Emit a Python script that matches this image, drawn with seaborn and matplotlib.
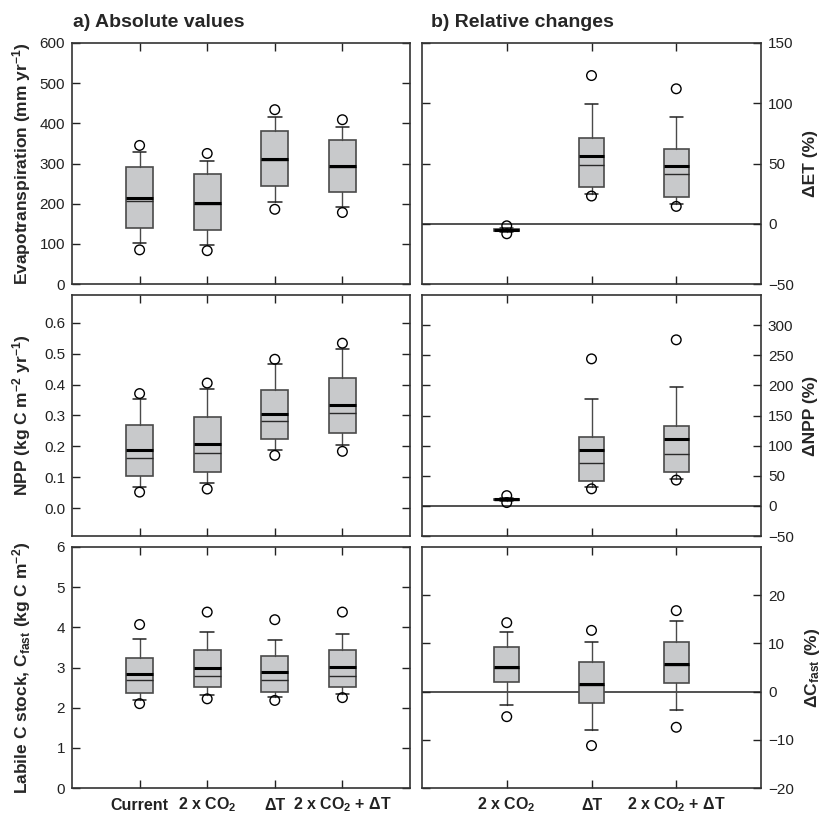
import matplotlib
matplotlib.use("Agg")
import matplotlib.pyplot as plt
import seaborn as sns
import numpy as np

# scenario labels
cats_abs = ["Current", "2 x CO$_{\\mathbf{2}}$", "ΔT", "2 x CO$_{\\mathbf{2}}$ + ΔT"]
cats_rel = cats_abs[1:]

# evapotranspiration, absolute (mm/yr)
et_abs = dict(q1=[140, 134, 243, 229], med=[207, 199, 308, 291], q3=[291, 274, 382, 358],
              mean=[214, 202, 310, 293], lo=[102, 98, 203, 191], hi=[328, 307, 417, 390],
              p5=[85, 83, 186, 178], p95=[345, 325, 434, 409])
# evapotranspiration, relative change (%)
et_rel = dict(q1=[-6, 30.5, 21.9], med=[-5, 48.8, 41.3], q3=[-4, 71, 62],
              mean=[-5, 56.5, 48], lo=[-6.5, 25, 16.6], hi=[-3.5, 99.7, 89],
              p5=[-8.3, 23, 14.4], p95=[-1.7, 123, 112])
# NPP, absolute
npp_abs = dict(q1=[0.104, 0.117, 0.224, 0.243], med=[0.164, 0.179, 0.281, 0.307],
               q3=[0.268, 0.295, 0.383, 0.421], mean=[0.189, 0.209, 0.306, 0.335],
               lo=[0.069, 0.081, 0.188, 0.203], hi=[0.354, 0.387, 0.467, 0.515],
               p5=[0.052, 0.062, 0.171, 0.184], p95=[0.371, 0.405, 0.482, 0.534])
# NPP, relative change
npp_rel = dict(q1=[9, 41.7, 55.6], med=[10, 71, 86], q3=[12, 114, 133],
               mean=[10.6, 93, 110.6], lo=[8, 31.7, 45], hi=[13, 177, 198],
               p5=[5.5, 28.3, 42.8], p95=[17, 244, 275.6])
# labile C stock, absolute
cf_abs = dict(q1=[2.37, 2.51, 2.40, 2.51], med=[2.70, 2.80, 2.70, 2.80],
              q3=[3.23, 3.43, 3.28, 3.43], mean=[2.85, 3.00, 2.90, 3.01],
              lo=[2.20, 2.32, 2.27, 2.35], hi=[3.70, 3.88, 3.69, 3.84],
              p5=[2.10, 2.22, 2.18, 2.25], p95=[4.07, 4.38, 4.19, 4.38])
# labile C stock, relative change
cf_rel = dict(q1=[1.9, -2.4, 1.7], med=[5.0, 1.3, 5.6], q3=[9.3, 6.1, 10.2],
              mean=[5.2, 1.5, 5.7], lo=[-2.8, -7.9, -3.9], hi=[12.3, 10.3, 14.7],
              p5=[-5.2, -11.2, -7.4], p95=[14.3, 12.7, 16.8])

sns.set_style("ticks")
plt.rcParams['font.family'] = ['Liberation Sans', 'DejaVu Sans']
plt.rcParams['mathtext.fontset'] = 'custom'
plt.rcParams['mathtext.rm'] = 'Liberation Sans'
plt.rcParams['mathtext.bf'] = 'Liberation Sans:bold'
plt.rcParams['mathtext.it'] = 'Liberation Sans:italic'

fig = plt.figure(figsize=(8.28, 8.16), dpi=100)

L0, LW = 72 / 828, 338 / 828
R0, RW = 422 / 828, 339 / 828
H = 241 / 816
rows_b = [1 - 284 / 816, 1 - 536 / 816, 1 - 788 / 816]

box_fill = "#c8c9cb"
edge = "#4a4a4a"


def draw_boxes(ax, s, width, capw):
    n = len(s["q1"])
    pos = list(range(n))
    stats = []
    for i in range(n):
        stats.append(dict(q1=s["q1"][i], med=s["med"][i], q3=s["q3"][i], mean=s["mean"][i],
                          whislo=s["lo"][i], whishi=s["hi"][i], fliers=[]))
    ax.bxp(stats, positions=pos, widths=width, capwidths=capw, showmeans=True, meanline=True,
           showfliers=False, patch_artist=True, manage_ticks=False,
           boxprops=dict(facecolor=box_fill, edgecolor=edge, linewidth=1.2),
           medianprops=dict(color="#2a2a2a", linewidth=1.0),
           meanprops=dict(color="black", linewidth=2.2, linestyle="-"),
           whiskerprops=dict(color=edge, linewidth=1.0),
           capprops=dict(color="#222222", linewidth=1.1))
    # 5th / 95th percentile points
    sns.scatterplot(x=pos + pos, y=s["p5"] + s["p95"], marker="o", s=48,
                    facecolor="none", edgecolor="black", linewidth=1.0, ax=ax, zorder=5)
    ax.set_xticks(pos)


def style(ax, right=False):
    ax.tick_params(direction="in", top=True, bottom=True, left=True, right=True,
                   length=6, width=1, labelsize=11, colors="#222222",
                   labelleft=not right, labelright=right, pad=5)
    for sp in ax.spines.values():
        sp.set_linewidth(1.2)
        sp.set_color("#333333")


def bottom_labels(ax, labels):
    ax.set_xticklabels(labels, fontsize=11.5, fontweight="bold")
    ax.tick_params(axis="x", pad=15.5)
    for t in ax.get_xticklabels():
        t.set_verticalalignment("baseline")


panels_abs = [
    (et_abs, (0, 600), np.arange(0, 601, 100), "Evapotranspiration (mm yr$^{\\mathbf{-1}}$)", "{:.0f}"),
    (npp_abs, (-0.09, 0.69), np.arange(0, 0.61, 0.1), "NPP (kg C m$^{\\mathbf{-2}}$ yr$^{\\mathbf{-1}}$)", "{:.1f}"),
    (cf_abs, (0, 6), np.arange(0, 7, 1), "Labile C stock, C$_{\\mathbf{fast}}$ (kg C m$^{\\mathbf{-2}}$)", "{:.0f}"),
]
panels_rel = [
    (et_rel, (-50, 150), np.arange(-50, 151, 50), "ΔET (%)"),
    (npp_rel, (-50, 350), np.arange(-50, 301, 50), "ΔNPP (%)"),
    (cf_rel, (-20, 30), np.arange(-20, 21, 10), "ΔC$_{\\mathbf{fast}}$ (%)"),
]

for r in range(3):
    data, lim, ticks, lab, fmt = panels_abs[r]
    ax = fig.add_axes([L0, rows_b[r], LW, H])
    draw_boxes(ax, data, 0.4, 0.2)
    ax.set_xlim(-1, 4)
    ax.set_ylim(*lim)
    ax.set_yticks(ticks)
    ax.set_yticklabels([fmt.format(t).replace("-", "−") for t in ticks])
    ax.set_ylabel(lab, fontsize=12.5, fontweight="bold")
    ax.yaxis.set_label_coords(-0.115, 0.5)
    style(ax)
    if r == 2:
        bottom_labels(ax, cats_abs)
    else:
        ax.set_xticklabels([])

    data, lim, ticks, lab = panels_rel[r]
    ax = fig.add_axes([R0, rows_b[r], RW, H])
    ax.axhline(0, color="#222222", linewidth=1.1, zorder=1)
    draw_boxes(ax, data, 0.3, 0.15)
    ax.set_xlim(-1, 3)
    ax.set_ylim(*lim)
    ax.set_yticks(ticks)
    ax.set_yticklabels([f"{t:.0f}".replace("-", "−") for t in ticks])
    ax.yaxis.set_label_position("right")
    ax.set_ylabel(lab, fontsize=12.5, fontweight="bold", rotation=90)
    ax.yaxis.set_label_coords(1.123, 0.5)
    style(ax, right=True)
    if r == 2:
        bottom_labels(ax, cats_rel)
    else:
        ax.set_xticklabels([])

fig.text(73 / 828, 1 - 27 / 816, "a) Absolute values", fontsize=14, fontweight="bold", va="baseline")
fig.text(431 / 828, 1 - 27 / 816, "b) Relative changes", fontsize=14, fontweight="bold", va="baseline")

fig.savefig("out.png", dpi=100)
